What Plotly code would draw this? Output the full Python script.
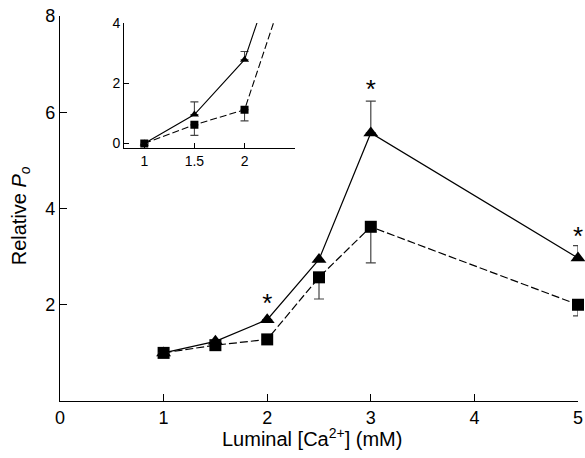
import plotly.graph_objects as go

# Main panel data
ca = [1, 1.5, 2, 2.5, 3, 5]
tri_po = [1.0, 1.24, 1.69, 2.94, 5.57, 2.97]
tri_err_up = [0, 0, 0, 0, 0.66, 0.26]
sq_po = [1.0, 1.16, 1.28, 2.57, 3.62, 2.0]
sq_err_dn = [0, 0, 0, 0.45, 0.75, 0.23]

# significance stars
star_x = [2, 3, 5]
star_y = [1.98, 6.43, 3.38]

# Inset data
ca_inset = [1, 1.5, 2, 2.5]
tri_inset = [0, 0.96, 2.78, 7.7]
tri_inset_err = [0, 0.42, 0.27, 0]
sq_inset = [0, 0.62, 1.12, 6.1]
sq_inset_err = [0, 0.35, 0.37, 0]

FONT = "Liberation Sans, Arial, sans-serif"
ERRC = "#444444"

fig = go.Figure()

fig.add_trace(go.Scatter(
    x=ca, y=sq_po, mode="lines+markers", cliponaxis=False,
    line=dict(color="black", width=1.2, dash="8px,3px"),
    marker=dict(symbol="square", size=12, color="black"),
    error_y=dict(type="data", symmetric=False, array=[0]*len(ca), arrayminus=sq_err_dn,
                 color=ERRC, thickness=1.2, width=5),
    xaxis="x", yaxis="y", showlegend=False))
fig.add_trace(go.Scatter(
    x=ca, y=tri_po, mode="lines+markers", cliponaxis=False,
    line=dict(color="black", width=1.2),
    marker=dict(symbol="triangle-up", size=13, color="black"),
    error_y=dict(type="data", symmetric=False, array=tri_err_up, arrayminus=[0]*len(ca),
                 color=ERRC, thickness=1.2, width=5),
    xaxis="x", yaxis="y", showlegend=False))
fig.add_trace(go.Scatter(
    x=star_x, y=star_y, mode="text", text=["*"]*len(star_x),
    textfont=dict(size=26, color="black", family=FONT),
    xaxis="x", yaxis="y", showlegend=False, cliponaxis=False))

# inset
fig.add_trace(go.Scatter(
    x=ca_inset, y=sq_inset, mode="lines+markers",
    line=dict(color="black", width=1.1, dash="7px,3px"),
    marker=dict(symbol="square", size=8, color="black"),
    error_y=dict(type="data", symmetric=False, array=[0]*len(ca_inset), arrayminus=sq_inset_err,
                 color=ERRC, thickness=1.1, width=4),
    xaxis="x2", yaxis="y2", showlegend=False))
fig.add_trace(go.Scatter(
    x=ca_inset, y=tri_inset, mode="lines+markers",
    line=dict(color="black", width=1.1),
    marker=dict(symbol="triangle-up", size=8, color="black"),
    error_y=dict(type="data", symmetric=False, array=tri_inset_err, arrayminus=[0]*len(ca_inset),
                 color=ERRC, thickness=1.1, width=4),
    xaxis="x2", yaxis="y2", showlegend=False))

axis_common = dict(showline=True, linecolor="black", linewidth=1.2, ticks="inside",
                   tickcolor="black", tickwidth=1.2, showgrid=False, zeroline=False,
                   automargin=False)

fig.update_layout(
    width=585, height=458,
    margin=dict(l=60, r=7, t=16, b=57),
    paper_bgcolor="white", plot_bgcolor="white",
    font=dict(family=FONT, color="black"),
    xaxis=dict(range=[0, 5], tickvals=[0, 1, 2, 3, 4, 5], ticklen=7,
               tickfont=dict(size=18), **axis_common),
    yaxis=dict(range=[0, 8], tickvals=[2, 4, 6, 8], ticklen=7,
               tickfont=dict(size=18), **axis_common),
    xaxis2=dict(domain=[0.124, 0.453], anchor="y2", range=[0.8, 2.5], tickvals=[1, 1.5, 2],
                ticktext=["1", "1.5", "2"], ticklen=5, tickfont=dict(size=14), **axis_common),
    yaxis2=dict(domain=[0.657, 0.982], anchor="x2", range=[-0.15, 4], tickvals=[0, 2, 4],
                ticklen=5, tickfont=dict(size=14), **axis_common),
    annotations=[
        dict(text="Luminal [Ca<sup>2+</sup>] (mM)", xref="paper", yref="paper",
             x=0.487, y=-0.094, xanchor="center", yanchor="middle", showarrow=False,
             font=dict(size=20)),
        dict(text="Relative <i>P</i><sub><i>o</i></sub>", xref="paper", yref="paper",
             x=-0.077, y=0.48, xanchor="center", yanchor="middle", showarrow=False,
             textangle=-90, font=dict(size=20)),
    ],
)

fig.write_html("out.html", config={"displayModeBar": False},
               post_script="document.body.style.margin='0';document.body.style.padding='0';")
